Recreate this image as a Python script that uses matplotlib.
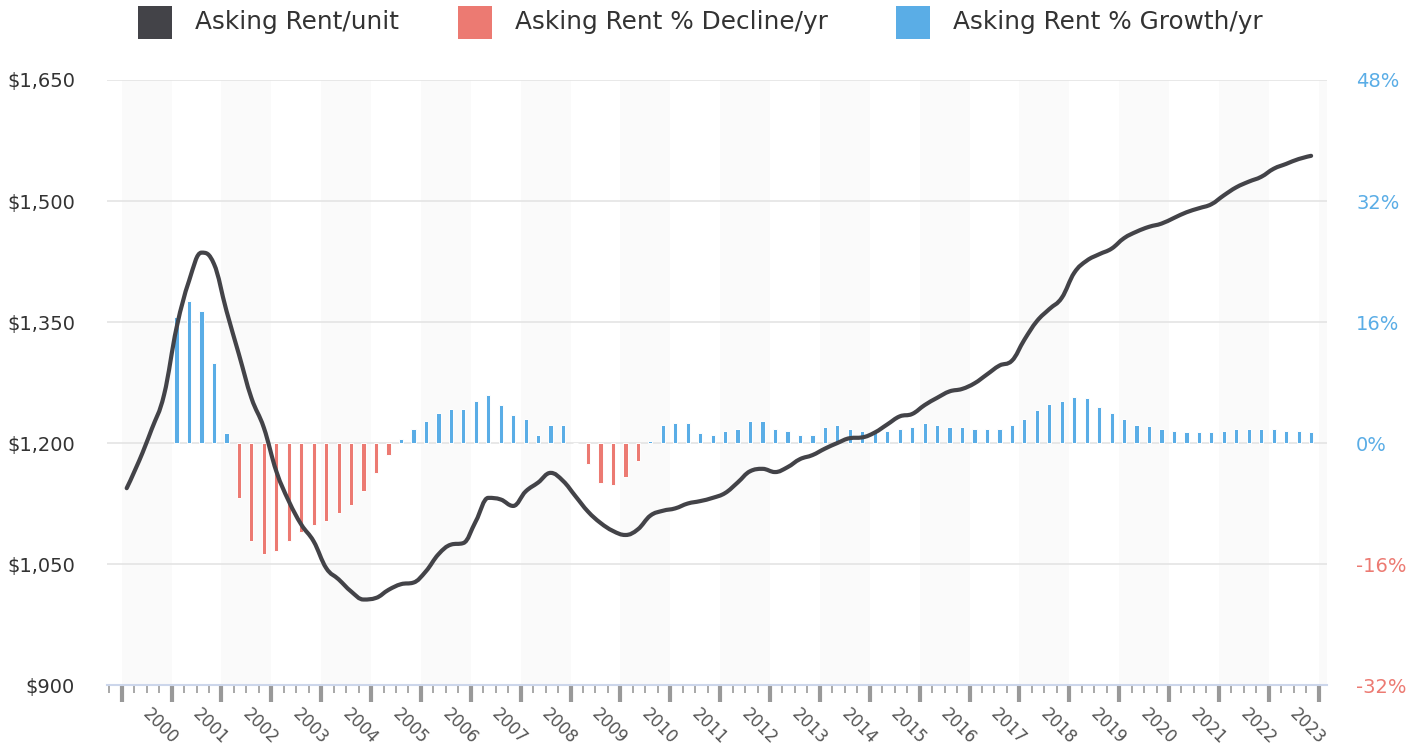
import numpy as np
import matplotlib.pyplot as plt
from matplotlib.patches import Rectangle, PathPatch
from matplotlib.path import Path
from matplotlib.ticker import FuncFormatter

# quarterly asking rent per unit, 2000Q1 .. 2023Q4
rent_per_unit = [
    1144, 1178, 1217, 1260,
    1343, 1401, 1436, 1422,
    1364, 1310, 1256, 1219,
    1165, 1128, 1099, 1078,
    1045, 1031, 1016, 1006,
    1008, 1018, 1025, 1027,
    1041, 1062, 1074, 1076,
    1103, 1132, 1130, 1122,
    1140, 1151, 1163, 1153,
    1134, 1115, 1101, 1091,
    1086, 1093, 1110, 1116,
    1119, 1125, 1128, 1132,
    1138, 1151, 1165, 1168,
    1164, 1170, 1180, 1185,
    1193, 1200, 1206, 1207,
    1213, 1223, 1233, 1236,
    1247, 1256, 1264, 1267,
    1274, 1285, 1296, 1302,
    1328, 1351, 1366, 1380,
    1411, 1426, 1434, 1441,
    1454, 1462, 1468, 1472,
    1479, 1486, 1491, 1496,
    1507, 1517, 1524, 1530,
    1540, 1546, 1552, 1556,
]

# year over year change in %, 2001Q1 .. 2023Q4
growth_pct = [
    16.7, 18.8, 17.5, 10.6,
    1.3, -7.3, -13.0, -14.7,
    -14.3, -13.0, -11.7, -10.9,
    -10.3, -9.3, -8.2, -6.4,
    -4.0, -1.6, 0.5, 1.9,
    2.9, 4.0, 4.5, 4.5,
    5.6, 6.4, 5.0, 3.7,
    3.2, 1.1, 2.4, 2.4,
    0.0, -2.8, -5.3, -5.5,
    -4.5, -2.4, 0.3, 2.4,
    2.6, 2.6, 1.3, 1.1,
    1.6, 1.9, 2.9, 2.9,
    1.9, 1.6, 1.1, 1.1,
    2.1, 2.4, 1.9, 1.6,
    1.6, 1.6, 1.9, 2.1,
    2.6, 2.4, 2.1, 2.1,
    1.9, 1.9, 1.9, 2.4,
    3.2, 4.3, 5.1, 5.6,
    6.1, 5.9, 4.8, 4.0,
    3.2, 2.4, 2.2, 1.9,
    1.6, 1.4, 1.4, 1.4,
    1.6, 1.9, 1.9, 1.9,
    1.9, 1.6, 1.6, 1.4,
]

years = list(range(2000, 2024))
rent_ticks = [900, 1050, 1200, 1350, 1500, 1650]
pct_ticks = [-32, -16, 0, 16, 32, 48]

LINE = '#434348'
RED = '#ec7a72'
BLUE = '#5aade6'
TXT = '#333333'

# decimal-year position of each quarter
x_rent = np.array([y + q * 0.25 + 0.1 for y in years for q in range(4)])
x_growth = x_rent[4:]
growth = np.array(growth_pct)


def spline_path(xs, ys, smoothing=1.5):
    # bezier path through the points, same idea as a highcharts "spline" series
    n = len(xs)
    d = smoothing + 1
    lc, rc = [None] * n, [None] * n
    for i in range(1, n - 1):
        lx = (smoothing * xs[i] + xs[i - 1]) / d
        ly = (smoothing * ys[i] + ys[i - 1]) / d
        rx = (smoothing * xs[i] + xs[i + 1]) / d
        ry = (smoothing * ys[i] + ys[i + 1]) / d
        if rx != lx:
            corr = (ry - ly) * (rx - xs[i]) / (rx - lx) + ys[i] - ry
            ly += corr
            ry += corr
        lo, hi = min(ys[i - 1], ys[i]), max(ys[i - 1], ys[i])
        if ly > hi:
            ly, ry = hi, 2 * ys[i] - hi
        elif ly < lo:
            ly, ry = lo, 2 * ys[i] - lo
        lo, hi = min(ys[i + 1], ys[i]), max(ys[i + 1], ys[i])
        if ry > hi:
            ry, ly = hi, 2 * ys[i] - hi
        elif ry < lo:
            ry, ly = lo, 2 * ys[i] - lo
        lc[i] = (lx, ly)
        rc[i] = (rx, ry)
    verts = [(xs[0], ys[0])]
    codes = [Path.MOVETO]
    for i in range(1, n):
        c1 = rc[i - 1] if rc[i - 1] else (xs[i - 1], ys[i - 1])
        c2 = lc[i] if lc[i] else (xs[i], ys[i])
        verts += [c1, c2, (xs[i], ys[i])]
        codes += [Path.CURVE4] * 3
    return Path(verts, codes)


plt.rcParams['font.family'] = ['DejaVu Sans']

fig = plt.figure(figsize=(14.21, 7.49), dpi=100)
ax2 = fig.add_axes([0.0753, 0.0854, 0.8586, 0.8078])
ax = ax2.twinx()
ax.set_zorder(ax2.get_zorder() + 1)
ax.patch.set_visible(False)

x0, x1 = 1999.705, 2024.17
ax2.set_xlim(x0, x1)

# alternating year bands
for yr in range(2000, 2025, 2):
    ax2.axvspan(yr, yr + 1, color='#fafafa', zorder=0, lw=0)

# growth bars on the percent axis
bar_colors = [BLUE if v >= 0 else RED for v in growth]
ax2.bar(x_growth, growth, width=0.085, color=bar_colors,
        edgecolor='white', linewidth=0.7, zorder=2)
ax2.set_ylim(-32, 48)
ax2.set_yticks(pct_ticks)
ax2.grid(axis='y', color='#e6e6e6', lw=1.3, zorder=1)
ax2.set_axisbelow(True)

# rent line on the dollar axis
ax.add_patch(PathPatch(spline_path(list(x_rent), rent_per_unit),
                       facecolor='none', edgecolor=LINE, lw=3.0,
                       capstyle='round', joinstyle='round', zorder=3))
ax.set_ylim(900, 1650)
ax.set_yticks(rent_ticks)

# the twin is drawn on top: put dollars left, percents right
ax.yaxis.tick_left()
ax2.yaxis.tick_right()
ax.yaxis.set_major_formatter(FuncFormatter(lambda v, p: '${:,.0f}'.format(v)))
ax2.yaxis.set_major_formatter(FuncFormatter(lambda v, p: '{:.0f}%'.format(v)))
ax.tick_params(axis='y', length=0, pad=23, labelsize=14, labelcolor=TXT)
ax2.tick_params(axis='y', length=0, pad=21, labelsize=14)
for lbl, v in zip(ax2.get_yticklabels(), pct_ticks):
    lbl.set_color(BLUE if v >= 0 else RED)

for a in (ax, ax2):
    for s in a.spines.values():
        s.set_visible(False)
ax2.spines['bottom'].set_visible(True)
ax2.spines['bottom'].set_color('#ccd6eb')
ax2.spines['bottom'].set_linewidth(1.5)

# x ticks: years major, quarters minor
ax2.set_xticks(list(range(2000, 2025)))
ax2.set_xticks([y + q * 0.25 for y in range(1999, 2024) for q in (1, 2, 3)
                if x0 <= y + q * 0.25 <= x1], minor=True)
ax2.tick_params(axis='x', which='major', length=12, width=3, color='#999999',
                labelbottom=False)
ax2.tick_params(axis='x', which='minor', length=6, width=1.2, color='#999999')

for yr in years:
    ax2.text(yr + 0.48, -0.043, str(yr), transform=ax2.get_xaxis_transform(),
             rotation=-45, rotation_mode='anchor', ha='left', va='center',
             fontsize=12, color='#555555')

# legend across the top
legend_items = [
    ('Asking Rent/unit', LINE, 138),
    ('Asking Rent % Decline/yr', RED, 458),
    ('Asking Rent % Growth/yr', BLUE, 896),
]
W, H = 1421, 749
for label, col, px in legend_items:
    fig.add_artist(Rectangle((px / W, 1 - 39 / H), 34 / W, 33 / H,
                             transform=fig.transFigure, color=col, lw=0))
    fig.text((px + 57) / W, 1 - 22.5 / H, label, ha='left', va='center',
             fontsize=17.8, color=TXT)

fig.savefig('out.png', dpi=100)
